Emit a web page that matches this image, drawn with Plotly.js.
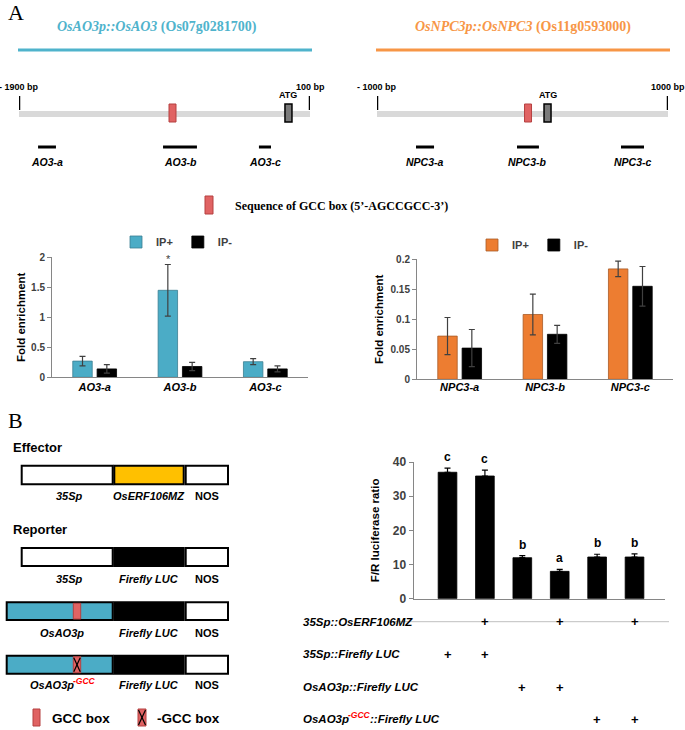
<!DOCTYPE html>
<html><head><meta charset="utf-8">
<script src="https://cdn.plot.ly/plotly-3.0.1.min.js"></script>
<style>html,body{margin:0;padding:0;background:#fff}</style>
</head><body><div id="chart" style="width:685px;height:730px"></div>
<script>
// ================= DATA =================
// Panel A – ChIP-qPCR, OsAO3 promoter
const ao3Categories = ['AO3-a', 'AO3-b', 'AO3-c'];
const ao3IPplus = [0.27, 1.45, 0.26];
const ao3IPplusErr = [0.08, 0.43, 0.05];
const ao3IPminus = [0.14, 0.18, 0.14];
const ao3IPminusErr = [0.07, 0.07, 0.05];
const ao3Stars = ['', '*', ''];
// Panel A – ChIP-qPCR, OsNPC3 promoter
const npc3Categories = ['NPC3-a', 'NPC3-b', 'NPC3-c'];
const npc3IPplus = [0.072, 0.108, 0.184];
const npc3IPplusErr = [0.031, 0.034, 0.013];
const npc3IPminus = [0.052, 0.075, 0.155];
const npc3IPminusErr = [0.031, 0.015, 0.033];
const seriesNames = ['IP+', 'IP-'];
// Promoter schematics (bp)
const ao3Region = [-1900, 100];
const ao3RegionLabels = ['- 1900 bp', '100 bp'];
const ao3GCC = -845;
const ao3ATG = -48;
const ao3PrimerStart = [-1769, -910, -251];
const ao3PrimerEnd = [-1646, -677, -168];
const npc3Region = [-1000, 1000];
const npc3RegionLabels = ['- 1000 bp', '1000 bp'];
const npc3GCC = 38;
const npc3ATG = 172;
const npc3PrimerStart = [-732, -38, 677];
const npc3PrimerEnd = [-608, 113, 835];
// Panel B – dual luciferase
const lucValues = [37.0, 35.9, 12.0, 8.0, 12.2, 12.2];
const lucErr = [1.2, 1.7, 0.6, 0.6, 0.8, 0.9];
const lucLetters = ['c', 'c', 'b', 'a', 'b', 'b'];
// each row label: [main part, superscript part, trailing part]
const lucRowLabels = [
  ['35Sp::OsERF106MZ', '', ''],
  ['35Sp::Firefly LUC', '', ''],
  ['OsAO3p::Firefly LUC', '', ''],
  ['OsAO3p', '-GCC', '::Firefly LUC']
];
const lucRowFlags = [
  [0, 1, 0, 1, 0, 1],
  [1, 1, 0, 0, 0, 0],
  [0, 0, 1, 1, 0, 0],
  [0, 0, 0, 0, 1, 1]
];

// ================= HELPERS =================
const W = 685, H = 730;
const P = x => x / W;
const Q = y => 1 - y / H;
const SANS = 'Liberation Sans, Arial, sans-serif';
const SERIF = 'Liberation Serif, Times New Roman, serif';
const BLUE = '#4bacc6', ORANGE = '#ed7d31', ORANGE_T = '#f79646';
const GCC_FILL = '#e06363', GCC_LINE = '#b54040';
const ctx = document.createElement('canvas').getContext('2d');
function measure(text, size) {
  ctx.font = 'italic bold ' + size + 'px "Liberation Sans", Arial, sans-serif';
  return ctx.measureText(text).width;
}

const shapes = [];
const annotations = [];
function ann(o) { annotations.push(Object.assign({showarrow: false}, o)); }
function rectPx(x0, y0, x1, y1, fill, lineColor, lw) {
  shapes.push({type: 'rect', xref: 'paper', yref: 'paper', x0: P(x0), x1: P(x1), y0: Q(y1), y1: Q(y0),
    fillcolor: fill, line: {color: lineColor || fill, width: lw === undefined ? 0 : lw}, layer: 'above'});
}
function linePx(x0, y0, x1, y1, color, w) {
  shapes.push({type: 'line', xref: 'paper', yref: 'paper', x0: P(x0), x1: P(x1), y0: Q(y0), y1: Q(y1),
    line: {color: color, width: w}, layer: 'above'});
}
function textPx(x, y, text, size, family, color, xanchor) {
  ann({xref: 'paper', yref: 'paper', x: P(x), y: Q(y), text: text, xanchor: xanchor || 'center', yanchor: 'middle',
    font: {size: size, family: family, color: color || '#000'}});
}
// label with a red superscript part, laid out piecewise, starting at x (left)
function supLabel(x, y, parts, size, supSize) {
  const bi = t => '<b><i>' + t + '</i></b>';
  textPx(x, y, bi(parts[0]), size, SANS, '#000', 'left');
  if (!parts[1]) return;
  const w0 = measure(parts[0], size) - 1;
  textPx(x + w0, y - 4, bi(parts[1]), supSize, SANS, '#ff0000', 'left');
  const w1 = measure(parts[1], supSize);
  if (parts[2]) textPx(x + w0 + w1, y, bi(parts[2]), size, SANS, '#000', 'left');
}

// ================= TRACES =================
const errStyle = (arr) => ({type: 'data', array: arr, visible: true, color: '#404040', thickness: 1.2, width: 3});
const traces = [
  {type: 'bar', x: ao3Categories, y: ao3IPplus, name: seriesNames[0], error_y: errStyle(ao3IPplusErr),
   marker: {color: BLUE, line: {color: '#3b7f92', width: 0.8}}, xaxis: 'x', yaxis: 'y', legend: 'legend', hoverinfo: 'skip'},
  {type: 'bar', x: ao3Categories, y: ao3IPminus, name: seriesNames[1], error_y: errStyle(ao3IPminusErr),
   marker: {color: '#000', line: {color: '#000', width: 0.8}}, xaxis: 'x', yaxis: 'y', legend: 'legend', hoverinfo: 'skip'},
  {type: 'bar', x: npc3Categories, y: npc3IPplus, name: seriesNames[0], error_y: errStyle(npc3IPplusErr),
   marker: {color: ORANGE, line: {color: '#a85a26', width: 0.8}}, xaxis: 'x2', yaxis: 'y2', legend: 'legend2', hoverinfo: 'skip'},
  {type: 'bar', x: npc3Categories, y: npc3IPminus, name: seriesNames[1], error_y: errStyle(npc3IPminusErr),
   marker: {color: '#000', line: {color: '#000', width: 0.8}}, xaxis: 'x2', yaxis: 'y2', legend: 'legend2', hoverinfo: 'skip'},
  {type: 'bar', x: lucValues.map((_, i) => i), y: lucValues, width: 0.5, showlegend: false,
   error_y: {type: 'data', array: lucErr, symmetric: false, arrayminus: lucErr.map(() => 0), visible: true, color: '#000', thickness: 1.2, width: 3},
   marker: {color: '#000', line: {color: '#000', width: 0.8}}, xaxis: 'x3', yaxis: 'y3', hoverinfo: 'skip'}
];
function primerTrace(starts, ends, xa, ya) {
  const xs = [], ys = [];
  starts.forEach((s, i) => { xs.push(s, ends[i], null); ys.push(147, 147, null); });
  return {type: 'scatter', mode: 'lines', x: xs, y: ys, line: {color: '#000', width: 3},
    xaxis: xa, yaxis: ya, showlegend: false, hoverinfo: 'skip'};
}
traces.push(primerTrace(ao3PrimerStart, ao3PrimerEnd, 'x4', 'y4'));
traces.push(primerTrace(npc3PrimerStart, npc3PrimerEnd, 'x5', 'y5'));

// ================= PANEL A schematic =================
textPx(16, 13, 'A', 22, SERIF);
textPx(157, 27, '<b><i>OsAO3p::OsAO3</i> (Os07g0281700)</b>', 14, SERIF, '#4fb3cc');
textPx(523, 27, '<b><i>OsNPC3p::OsNPC3</i> (Os11g0593000)</b>', 14, SERIF, ORANGE_T);
linePx(18, 50, 312, 50, '#4fb3cc', 3);
linePx(376, 50, 670, 50, ORANGE_T, 3);

function schematic(xa, ya, region, regionLabels, gcc, atg, starts, ends, names) {
  const xr = xa, yr = ya;
  shapes.push({type: 'rect', xref: xr, yref: yr, xsizemode: 'pixel', xanchor: region[0], x0: -1, x1: 293,
    y0: 111, y1: 117, fillcolor: '#d9d9d9', line: {width: 0}, layer: 'below'});
  region.forEach((r, i) => {
    shapes.push({type: 'line', xref: xr, yref: yr, x0: r, x1: r, y0: 96, y1: 110, line: {color: '#000', width: 2.5}});
    ann({xref: xr, yref: yr, x: r, y: 87, text: '<b>' + regionLabels[i] + '</b>', font: {size: 9, family: SANS, color: '#000'}});
  });
  shapes.push({type: 'rect', xref: xr, yref: yr, xsizemode: 'pixel', xanchor: gcc, x0: -3.5, x1: 3.5,
    y0: 104, y1: 122, fillcolor: GCC_FILL, line: {color: GCC_LINE, width: 1}});
  shapes.push({type: 'rect', xref: xr, yref: yr, xsizemode: 'pixel', xanchor: atg, x0: -3.5, x1: 3.5,
    y0: 104, y1: 122, fillcolor: '#7a7a7a', line: {color: '#000', width: 1.5}});
  ann({xref: xr, yref: yr, x: atg, y: 95, text: '<b>ATG</b>', font: {size: 9, family: SANS, color: '#000'}});
  names.forEach((n, i) => {
    ann({xref: xr, yref: yr, x: (starts[i] + ends[i]) / 2, y: 162, text: '<b><i>' + n + '</i></b>',
      font: {size: 10.5, family: SANS, color: '#000'}});
  });
}
schematic('x4', 'y4', ao3Region, ao3RegionLabels, ao3GCC, ao3ATG, ao3PrimerStart, ao3PrimerEnd, ao3Categories);
schematic('x5', 'y5', npc3Region, npc3RegionLabels, npc3GCC, npc3ATG, npc3PrimerStart, npc3PrimerEnd, npc3Categories);

rectPx(205, 196, 213, 214, GCC_FILL, GCC_LINE, 1);
textPx(233, 206, '<b>Sequence of GCC box (5\u2019-AGCCGCC-3\u2019)</b>', 12, SERIF, '#000', 'left');

ao3Stars.forEach((s, i) => {
  if (s) ann({xref: 'x', yref: 'y', x: ao3Categories[i], y: ao3IPplus[i] + ao3IPplusErr[i], xshift: -12,
    yanchor: 'bottom', yshift: -2, text: s, font: {size: 11, family: SANS, color: '#404040'}});
});

// ================= PANEL B diagrams =================
textPx(16, 420, 'B', 22, SERIF);
textPx(11, 447, '<b>Effector</b>', 13, SANS, '#000', 'left');
textPx(11, 529, '<b>Reporter</b>', 13, SANS, '#000', 'left');

const rowsB = [
  {y: [465.7, 484.3], first: [21.7, 112.7], firstFill: '#fff', second: '#ffc000', gcc: 0,
   labels: [['35Sp', ''], 'OsERF106MZ', 'NOS'], labelY: 496, labelX: 67},
  {y: [548, 566], first: [21.7, 112.7], firstFill: '#fff', second: '#000', gcc: 0,
   labels: [['35Sp', ''], 'Firefly LUC', 'NOS'], labelY: 578.5, labelX: 67},
  {y: [602.3, 620], first: [6.7, 112.7], firstFill: BLUE, second: '#000', gcc: 1,
   labels: [['OsAO3p', ''], 'Firefly LUC', 'NOS'], labelY: 632.5, labelX: 60},
  {y: [655.7, 673.7], first: [6.7, 112.7], firstFill: BLUE, second: '#000', gcc: 2,
   labels: [['OsAO3p', '-GCC'], 'Firefly LUC', 'NOS'], labelY: 685, labelX: 60}
];
function gccBox(x0, y0, x1, y1, crossed) {
  rectPx(x0, y0, x1, y1, GCC_FILL, GCC_LINE, 1);
  if (crossed) {
    linePx(x0 + 0.5, y0 + 1, x1 - 0.5, y1 - 1, '#000', 1.2);
    linePx(x1 - 0.5, y0 + 1, x0 + 0.5, y1 - 1, '#000', 1.2);
  }
}
rowsB.forEach(r => {
  rectPx(r.first[0], r.y[0], r.first[1], r.y[1], r.firstFill, '#000', 2);
  rectPx(114.3, r.y[0], 183.7, r.y[1], r.second, '#000', 2);
  rectPx(185.7, r.y[0], 228, r.y[1], '#fff', '#000', 2);
  if (r.gcc) gccBox(73.3, r.y[0] + 1, 80.7, r.y[1] - 1, r.gcc === 2);
  const lp = r.labels[0];
  const total = measure(lp[0], 11) + (lp[1] ? measure(lp[1], 8.5) - 1 : 0);
  supLabel(r.labelX - total / 2, r.labelY, [lp[0], lp[1], ''], 11, 8.5);
  textPx(149, r.labelY, '<b><i>' + r.labels[1] + '</i></b>', 11, SANS);
  textPx(207, r.labelY, '<b>' + r.labels[2] + '</b>', 11, SANS);
});
gccBox(33, 709, 40, 726, false);
textPx(50, 718, '<b>GCC box</b>', 13.5, SANS, '#000', 'left');
gccBox(138, 709, 146, 726, true);
textPx(155, 718, '<b>-GCC box</b>', 13.5, SANS, '#000', 'left');

// ================= luciferase table =================
const rowY = [621.7, 654.3, 687.3, 719.3];
linePx(395, rowY[0], 669, rowY[0], '#bfbfbf', 1);
lucRowLabels.forEach((lab, r) => {
  supLabel(301, rowY[r], lab, 11.5, 8.5);
  lucRowFlags[r].forEach((f, i) => {
    if (f) ann({xref: 'x3', yref: 'paper', x: i, y: Q(rowY[r]), yanchor: 'middle', text: '<b>+</b>',
      font: {size: 13, family: SANS, color: '#000'}});
  });
});
lucLetters.forEach((l, i) => {
  ann({xref: 'x3', yref: 'y3', x: i, y: lucValues[i] + lucErr[i], yanchor: 'bottom', yshift: 2,
    text: '<b>' + l + '</b>', font: {size: 12, family: SANS, color: '#000'}});
});

// ================= LAYOUT =================
const axisCommon = {showgrid: false, zeroline: false, showline: true, linecolor: '#868686', linewidth: 1};
const hiddenAxis = {showgrid: false, zeroline: false, showline: false, showticklabels: false, ticks: '', fixedrange: true};
const layout = {
  width: W, height: H, margin: {l: 0, r: 0, t: 0, b: 0},
  paper_bgcolor: '#fff', plot_bgcolor: 'rgba(0,0,0,0)',
  font: {family: SANS, color: '#000'},
  barmode: 'group', bargap: 0.43, bargroupgap: 0.2,
  xaxis: Object.assign({}, axisCommon, {domain: [P(52), P(308)], anchor: 'y', ticks: '', ticklabelstandoff: -1,
    tickfont: {size: 11, family: SANS, color: '#000', weight: 'bold', style: 'italic'}}),
  yaxis: Object.assign({}, axisCommon, {domain: [Q(377.3), Q(257.3)], anchor: 'x', range: [0, 2], tickvals: [0, 0.5, 1, 1.5, 2],
    ticktext: ['0', '0.5', '1', '1.5', '2'],
    ticks: 'outside', ticklen: 4, tickcolor: '#868686', tickfont: {size: 10, family: SANS, color: '#404040', weight: 'bold'},
    title: {text: '<b>Fold enrichment</b>', standoff: 3, font: {size: 11.5, family: SANS, color: '#000'}}}),
  xaxis2: Object.assign({}, axisCommon, {domain: [P(417), P(673)], anchor: 'y2', ticks: '', ticklabelstandoff: -3,
    tickfont: {size: 11, family: SANS, color: '#000', weight: 'bold', style: 'italic'}}),
  yaxis2: Object.assign({}, axisCommon, {domain: [Q(379.3), Q(259.3)], anchor: 'x2', range: [0, 0.2],
    tickvals: [0, 0.05, 0.1, 0.15, 0.2], ticktext: ['0', '0.05', '0.1', '0.15', '0.2'],
    ticks: 'outside', ticklen: 4, tickcolor: '#868686', tickfont: {size: 10, family: SANS, color: '#404040', weight: 'bold'},
    title: {text: '<b>Fold enrichment</b>', standoff: 4, font: {size: 11.5, family: SANS, color: '#000'}}}),
  xaxis3: Object.assign({}, axisCommon, {domain: [P(414), P(665)], anchor: 'y3', range: [-0.896, 5.815], showticklabels: false, ticks: ''}),
  yaxis3: Object.assign({}, axisCommon, {domain: [Q(598.7), Q(462)], anchor: 'x3', range: [0, 40], tickvals: [0, 10, 20, 30, 40],
    ticks: 'outside', ticklen: 4, tickcolor: '#868686', linewidth: 1.5,
    tickfont: {size: 12, family: SANS, color: '#404040', weight: 'bold'},
    title: {text: '<b>F/R luciferase ratio</b>', standoff: 10, font: {size: 11.5, family: SANS, color: '#000'}}}),
  xaxis4: Object.assign({}, hiddenAxis, {domain: [P(19), P(310)], anchor: 'y4', range: ao3Region}),
  yaxis4: Object.assign({}, hiddenAxis, {domain: [Q(175), Q(80)], anchor: 'x4', range: [175, 80]}),
  xaxis5: Object.assign({}, hiddenAxis, {domain: [P(377), P(668)], anchor: 'y5', range: npc3Region}),
  yaxis5: Object.assign({}, hiddenAxis, {domain: [Q(175), Q(80)], anchor: 'x5', range: [175, 80]}),
  legend: {orientation: 'h', x: P(177), xanchor: 'center', y: Q(242), yanchor: 'middle', bgcolor: 'rgba(0,0,0,0)',
    font: {size: 11, family: SANS, color: '#404040', weight: 'bold'}, itemwidth: 30, traceorder: 'normal'},
  legend2: {orientation: 'h', x: P(533), xanchor: 'center', y: Q(245), yanchor: 'middle', bgcolor: 'rgba(0,0,0,0)',
    font: {size: 11, family: SANS, color: '#404040', weight: 'bold'}, itemwidth: 30, traceorder: 'normal'},
  shapes: shapes,
  annotations: annotations
};
Plotly.newPlot('chart', traces, layout, {displayModeBar: false, staticPlot: true});
</script>
</body></html>
